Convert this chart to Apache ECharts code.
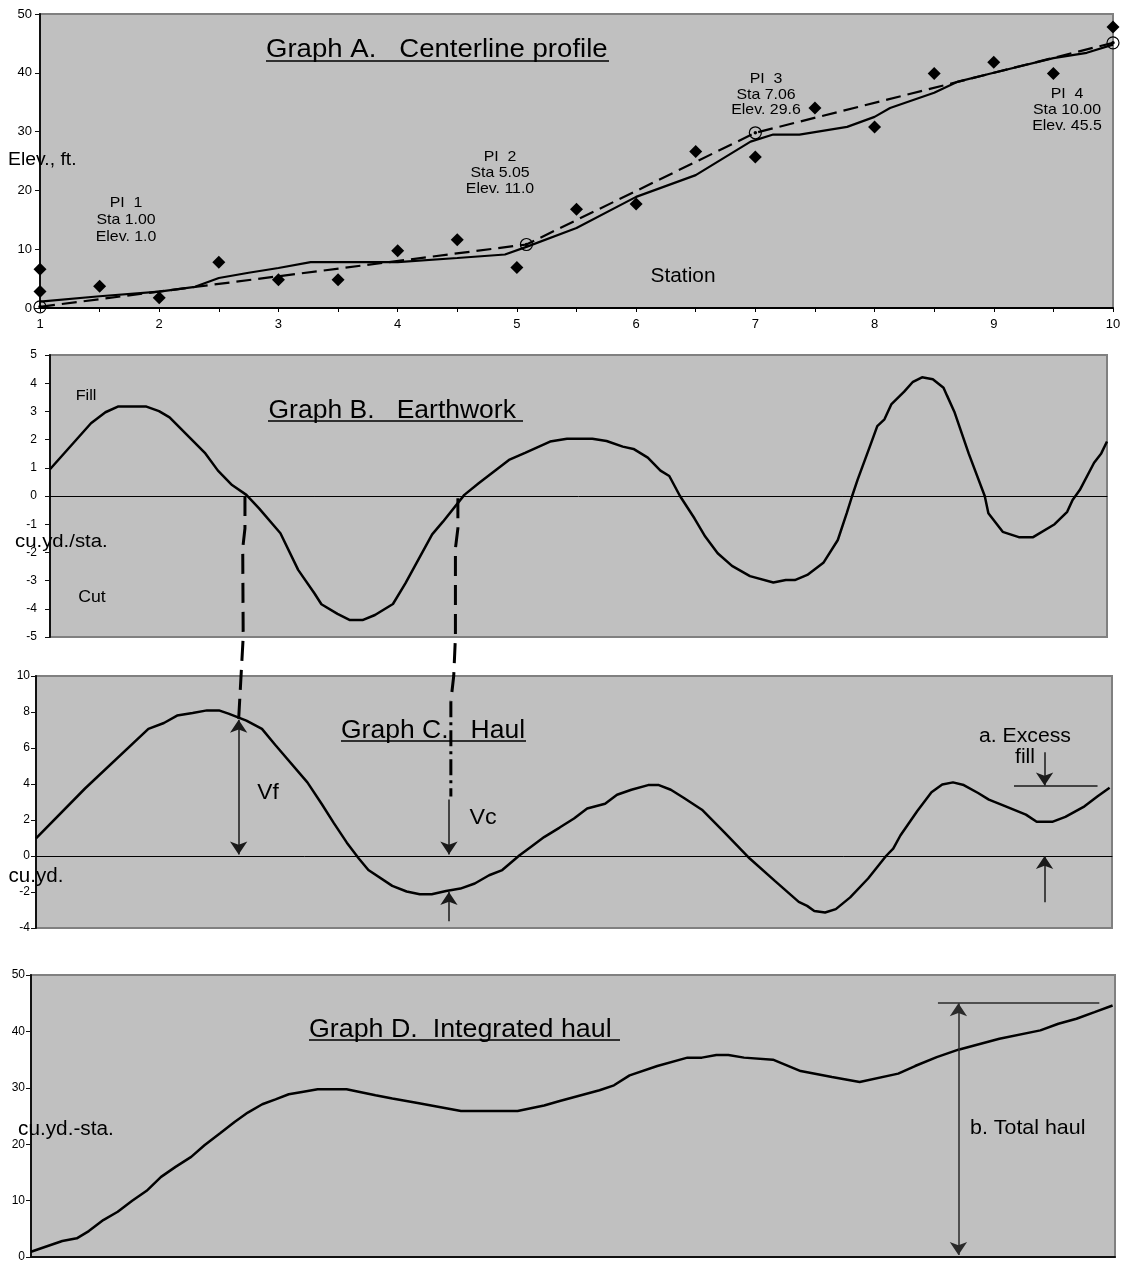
<!DOCTYPE html>
<html><head><meta charset="utf-8">
<script src="https://cdn.jsdelivr.net/npm/echarts@6/dist/echarts.min.js"></script>
<style>html,body{margin:0;padding:0;background:#fff}#c{width:1122px;height:1269px}</style>
</head><body><div id="c"></div>
<script>
const FONT = "'Liberation Sans', Arial, Helvetica, sans-serif";
const SX = 1.06;

// ---------- Graph A: centerline profile ----------
const stationTicks = [1, 2, 3, 4, 5, 6, 7, 8, 9, 10];
const elevTicks = [0, 10, 20, 30, 40, 50];
const groundSta  = [1, 1, 1.5, 2, 2.5, 3, 3.5, 4, 4.5, 5, 5.5, 6, 6.5, 7, 7.5, 8, 8.5, 9, 9.5, 10];
const groundElev = [2.8, 6.6, 3.7, 1.75, 7.8, 4.8, 4.8, 9.75, 11.6, 6.9, 16.8, 17.7, 26.6, 25.7, 34.0, 30.8, 39.9, 41.8, 39.9, 47.8];
const profileSta  = [1, 1.5, 2, 2.3, 2.5, 2.75, 3, 3.27, 3.8, 4, 4.5, 4.9, 5.08, 5.5, 6, 6.5, 6.96, 7.15, 7.37, 7.77, 8.0, 8.13, 8.5, 8.7, 9, 9.5, 9.78, 10];
const profileElev = [1.1, 2.0, 2.8, 3.6, 5.1, 6.0, 6.8, 7.8, 7.8, 7.8, 8.5, 9.1, 10.4, 13.6, 18.9, 22.6, 28.3, 29.5, 29.5, 30.8, 32.5, 34.0, 36.6, 38.5, 40.0, 42.5, 43.4, 44.8];
const gradeSta  = [1, 5.08, 7.0, 10];
const gradeElev = [0.2, 10.8, 29.8, 45.1];
const piText = ['PI  1\nSta 1.00\nElev. 1.0', 'PI  2\nSta 5.05\nElev. 11.0', 'PI  3\nSta 7.06\nElev. 29.6', 'PI  4\nSta 10.00\nElev. 45.5'];

// ---------- Graph B: earthwork ----------
const earthTicks = [-5, -4, -3, -2, -1, 0, 1, 2, 3, 4, 5];
const earthSta = [1, 1.349, 1.472, 1.578, 1.821, 1.928, 2.018, 2.323, 2.43, 2.55, 2.672, 2.78, 2.962, 3.113, 3.251, 3.311, 3.448, 3.554, 3.661, 3.767, 3.92, 4.026, 4.254, 4.346, 4.528, 4.65, 4.908, 5.045, 5.258, 5.402, 5.618, 5.739, 5.877, 5.968, 6.09, 6.198, 6.273, 6.364, 6.487, 6.579, 6.685, 6.807, 6.96, 7.159, 7.265, 7.342, 7.448, 7.585, 7.708, 7.784, 7.83, 7.876, 7.982, 8.044, 8.105, 8.165, 8.273, 8.348, 8.425, 8.517, 8.608, 8.639, 8.7, 8.822, 8.959, 8.99, 9.112, 9.249, 9.371, 9.554, 9.661, 9.707, 9.768, 9.89, 9.951, 10];
const earthVal = [0.95, 2.58, 2.97, 3.17, 3.17, 3.01, 2.79, 1.51, 0.9, 0.39, 0.04, -0.44, -1.32, -2.62, -3.45, -3.84, -4.18, -4.4, -4.4, -4.22, -3.83, -3.1, -1.36, -0.91, 0.04, 0.45, 1.28, 1.53, 1.93, 2.03, 2.03, 1.95, 1.75, 1.67, 1.36, 0.9, 0.71, 0, -0.79, -1.44, -2.03, -2.48, -2.84, -3.07, -2.98, -2.98, -2.8, -2.37, -1.56, -0.61, 0, 0.57, 1.77, 2.48, 2.72, 3.26, 3.7, 4.05, 4.21, 4.14, 3.84, 3.55, 2.99, 1.51, 0, -0.61, -1.27, -1.46, -1.46, -1.0, -0.56, -0.14, 0.21, 1.18, 1.51, 1.93];

// ---------- Graph C: haul ----------
const haulTicks = [-4, -2, 0, 2, 4, 6, 8, 10];
const haulSta = [1, 1.41, 1.94, 2.07, 2.18, 2.31, 2.43, 2.53, 2.61, 2.76, 2.89, 3.0, 3.27, 3.39, 3.49, 3.6, 3.7, 3.78, 3.98, 4.1, 4.21, 4.31, 4.43, 4.55, 4.67, 4.79, 4.9, 5.045, 5.13, 5.25, 5.38, 5.5, 5.61, 5.76, 5.86, 5.98, 6.12, 6.21, 6.31, 6.42, 6.57, 6.76, 6.97, 7.18, 7.38, 7.45, 7.51, 7.6, 7.69, 7.81, 7.96, 8.11, 8.17, 8.23, 8.37, 8.49, 8.58, 8.67, 8.76, 8.88, 8.97, 9.09, 9.28, 9.37, 9.5, 9.61, 9.77, 9.88, 9.98];
const haulVal = [0.98, 3.75, 7.06, 7.39, 7.8, 7.95, 8.09, 8.09, 7.91, 7.52, 7.06, 6.18, 4.09, 2.89, 1.84, 0.74, -0.14, -0.78, -1.66, -1.97, -2.12, -2.12, -1.94, -1.81, -1.53, -1.07, -0.78, 0.04, 0.46, 1.05, 1.58, 2.08, 2.64, 2.9, 3.4, 3.68, 3.94, 3.94, 3.68, 3.22, 2.57, 1.3, -0.14, -1.38, -2.55, -2.77, -3.05, -3.14, -2.95, -2.3, -1.25, 0, 0.41, 1.14, 2.49, 3.54, 3.97, 4.09, 3.94, 3.5, 3.13, 2.81, 2.3, 1.9, 1.9, 2.17, 2.76, 3.32, 3.79];

// ---------- Graph D: integrated haul ----------
const intTicks = [0, 10, 20, 30, 40, 50];
const intSta = [1, 1.26, 1.38, 1.48, 1.6, 1.72, 1.84, 1.96, 2.08, 2.2, 2.33, 2.44, 2.57, 2.69, 2.8, 2.92, 3.03, 3.14, 3.25, 3.38, 3.62, 3.86, 4.0, 4.21, 4.57, 5.04, 5.26, 5.39, 5.72, 5.84, 5.97, 6.2, 6.45, 6.57, 6.69, 6.79, 6.92, 7.16, 7.39, 7.65, 7.88, 8.2, 8.34, 8.52, 8.7, 9.04, 9.38, 9.53, 9.68, 9.83, 9.98];
const intVal = [0.94, 2.83, 3.31, 4.6, 6.55, 8.02, 9.96, 11.73, 14.21, 15.98, 17.75, 19.82, 21.95, 23.95, 25.61, 27.08, 27.96, 28.85, 29.26, 29.73, 29.73, 28.67, 28.09, 27.31, 25.89, 25.89, 26.85, 27.66, 29.56, 30.44, 32.21, 33.86, 35.35, 35.35, 35.81, 35.81, 35.35, 34.99, 32.97, 31.91, 31.03, 32.51, 33.86, 35.45, 36.76, 38.71, 40.18, 41.36, 42.25, 43.42, 44.6];

// ---------- annotations (station, value) ----------
const vfArrow = [2.695, 7.57, 0.09];        // station, from, to (both heads)
const vcArrow = [4.454, 3.14, 0.09];        // down arrow
const vcUp = [4.454, -3.62, -2.0];          // up arrow
const excessDown = [9.436, 5.76, 3.92];
const excessLine = [9.18, 9.879, 3.88];     // from sta, to sta, value
const excessUp = [9.436, -2.57, 0.0];
const totalLine = [8.53, 9.87, 45.0];
const totalArrow = [8.70, 45.0, 0.35];
// connectors between Graph B (grid 1) and Graph C (grid 2): [grid, station, value]
const conn1 = [[1, 2.660, 0], [1, 2.660, -1.15], [1, 2.641, -1.86], [1, 2.645, -5], [2, 2.715, 10], [2, 2.695, 7.6]];
const conn2a = [[1, 4.473, -0.08], [1, 4.473, -1.15], [1, 4.452, -1.86], [1, 4.452, -5], [2, 4.494, 10], [2, 4.47, 8.6]];
const conn2b = [[2, 4.47, 8.6], [2, 4.47, 3.3]];

const zip = (xs, ys) => xs.map((x, i) => [x, ys[i]]);
const labelStyle = (size, margin) => ({color: '#000', fontSize: size, fontFamily: FONT, margin: margin});

function grid(left, top, width, height) {
  return {left, top, width, height, show: true, backgroundColor: '#c0c0c0', borderColor: '#808080', borderWidth: 2, containLabel: false, outerBoundsMode: 'none'};
}
function yAx(idx, ticks, margin, size) {
  return {type: 'value', gridIndex: idx, min: ticks[0], max: ticks[ticks.length - 1], interval: ticks[1] - ticks[0],
    axisLine: {show: true, onZero: false, lineStyle: {color: '#111', width: 2}},
    axisTick: {show: true, inside: false, length: 5, lineStyle: {color: '#111', width: 1}},
    axisLabel: Object.assign(labelStyle(size, margin), {showMinLabel: true, showMaxLabel: true}),
    splitLine: {show: false}};
}
function xAx(idx, opts) {
  return Object.assign({type: 'value', gridIndex: idx, min: stationTicks[0], max: stationTicks[stationTicks.length - 1],
    splitLine: {show: false}, axisTick: {show: false}, axisLabel: {show: false},
    axisLine: {show: true, onZero: true, lineStyle: {color: '#000', width: 1}}}, opts || {});
}
const arrowSym = 13;
function arrowLine(sta, from, to, both) {
  return [{coord: [sta, from], symbol: both ? 'arrow' : 'none', symbolSize: arrowSym},
          {coord: [sta, to], symbol: 'arrow', symbolSize: arrowSym}];
}
function hLine(s1, s2, v) {
  return [{coord: [s1, v], symbol: 'none'}, {coord: [s2, v], symbol: 'none'}];
}

const option = {
  animation: false,
  backgroundColor: '#fff',
  grid: [grid(40, 14, 1073, 294), grid(50, 355, 1057, 282), grid(36, 676, 1076, 252), grid(31, 975, 1084, 282)],
  xAxis: [
    xAx(0, {interval: 0.5,
      axisLine: {show: true, onZero: false, lineStyle: {color: '#000', width: 2}},
      axisTick: {show: true, inside: false, length: 4, lineStyle: {color: '#000'}},
      axisLabel: Object.assign(labelStyle(13, 10), {showMinLabel: true, showMaxLabel: true,
        formatter: v => stationTicks.indexOf(v) >= 0 ? String(v) : ''})}),
    xAx(1), xAx(2),
    xAx(3, {axisLine: {show: true, onZero: false, lineStyle: {color: '#111', width: 2}}})
  ],
  yAxis: [yAx(0, elevTicks, 8, 13), yAx(1, earthTicks, 13, 12), yAx(2, haulTicks, 6, 12), yAx(3, intTicks, 6, 12)],
  series: [
    {type: 'line', name: 'profile', xAxisIndex: 0, yAxisIndex: 0, data: zip(profileSta, profileElev), symbol: 'none',
      lineStyle: {color: '#000', width: 2.2}, z: 3},
    {type: 'line', name: 'grade', xAxisIndex: 0, yAxisIndex: 0, data: zip(gradeSta, gradeElev), symbol: 'none',
      lineStyle: {color: '#000', width: 2.2, type: [15, 7]}, z: 3},
    {type: 'scatter', name: 'ground', xAxisIndex: 0, yAxisIndex: 0, data: zip(groundSta, groundElev), symbol: 'diamond',
      symbolSize: [13, 13], itemStyle: {color: '#000', opacity: 1}, z: 4},
    {type: 'scatter', name: 'PI', xAxisIndex: 0, yAxisIndex: 0, data: zip(gradeSta, gradeElev), symbol: 'circle',
      symbolSize: 12, itemStyle: {color: 'rgba(0,0,0,0)', borderColor: '#000', borderWidth: 1.2, opacity: 1}, z: 5},
    {type: 'scatter', name: 'PIdot', xAxisIndex: 0, yAxisIndex: 0, data: zip(gradeSta, gradeElev), symbol: 'circle',
      symbolSize: 3.5, itemStyle: {color: '#000', opacity: 1}, z: 5},
    {type: 'line', name: 'earthwork', xAxisIndex: 1, yAxisIndex: 1, data: zip(earthSta, earthVal), symbol: 'none',
      lineStyle: {color: '#000', width: 2.5}},
    {type: 'line', name: 'haul', xAxisIndex: 2, yAxisIndex: 2, data: zip(haulSta, haulVal), symbol: 'none',
      lineStyle: {color: '#000', width: 2.5},
      markLine: {silent: true, animation: false, label: {show: false}, symbol: ['none', 'none'],
        lineStyle: {color: '#1a1a1a', width: 1.5, type: 'solid', opacity: 1},
        data: [arrowLine(vfArrow[0], vfArrow[1], vfArrow[2], true), arrowLine(vcArrow[0], vcArrow[1], vcArrow[2]),
          arrowLine(vcUp[0], vcUp[1], vcUp[2]), arrowLine(excessDown[0], excessDown[1], excessDown[2]),
          arrowLine(excessUp[0], excessUp[1], excessUp[2]), hLine(excessLine[0], excessLine[1], excessLine[2])]}},
    {type: 'line', name: 'integrated', xAxisIndex: 3, yAxisIndex: 3, data: zip(intSta, intVal), symbol: 'none',
      lineStyle: {color: '#000', width: 2.5},
      markLine: {silent: true, animation: false, label: {show: false}, symbol: ['none', 'none'],
        lineStyle: {color: '#2a2a2a', width: 1.5, type: 'solid', opacity: 1},
        data: [arrowLine(totalArrow[0], totalArrow[1], totalArrow[2], true), hLine(totalLine[0], totalLine[1], totalLine[2])]}}
  ]
};

const chart = echarts.init(document.getElementById('c'), null, {renderer: 'canvas'});
chart.setOption(option);

function txt(text, x, y, size, align, lh) {
  return {type: 'text', x: x, y: y, scaleX: SX, z: 100,
    style: {text: text, fill: '#000', fontSize: size, fontFamily: FONT, align: align || 'left', verticalAlign: 'middle', lineHeight: lh || size * 1.15}};
}
function uline(x1, x2, y) {
  return {type: 'line', z: 100, shape: {x1: x1, y1: y, x2: x2, y2: y}, style: {stroke: '#000', lineWidth: 1.5}};
}
function px(p) {
  return chart.convertToPixel({xAxisIndex: p[0], yAxisIndex: p[0]}, [p[1], p[2]]);
}
function conn(points, dash) {
  return {type: 'polyline', z: 90, shape: {points: points.map(px)}, style: {stroke: '#000', lineWidth: 3, lineDash: dash, fill: null}};
}

const graphics = [
  // Graph A
  txt('Graph A.   Centerline profile', 266, 50, 26), uline(266, 609, 61),
  txt('Elev., ft.', 8, 160, 18.3),
  txt(piText[0], 126, 220, 15, 'center', 16.8),
  txt(piText[1], 500, 172.7, 15, 'center', 16.2),
  txt(piText[2], 766, 94.5, 15, 'center', 15.8),
  txt(piText[3], 1067, 110, 15, 'center', 16),
  txt('Station', 683, 277, 19.7, 'center'),
  // Graph B
  txt('Fill', 86, 396, 15.3, 'center'),
  txt('Graph B.   Earthwork', 268.5, 411, 25), uline(268, 523, 421),
  txt('cu.yd./sta.', 15, 542, 19.2),
  txt('Cut', 92, 597, 16.7, 'center'),
  // Graph C
  txt('Graph C.   Haul', 341, 731, 25), uline(341, 526, 741),
  txt('Vf', 268, 793, 21.5, 'center'),
  txt('Vc', 483, 818, 22, 'center'),
  txt('cu.yd.', 8.5, 877, 19.4),
  txt('a. Excess\nfill', 1025, 747, 20, 'center', 21),
  // Graph D
  txt('Graph D.  Integrated haul', 309, 1030, 25.3), uline(309, 620, 1040),
  txt('cu.yd.-sta.', 18, 1130, 19.6),
  txt('b. Total haul', 970, 1128, 20.2),
  // connectors
  conn(conn1, [20, 9]),
  conn(conn2a, [20, 9]),
  conn(conn2b, [16, 5, 3, 5])
];
chart.setOption({graphic: graphics});
</script></body></html>
